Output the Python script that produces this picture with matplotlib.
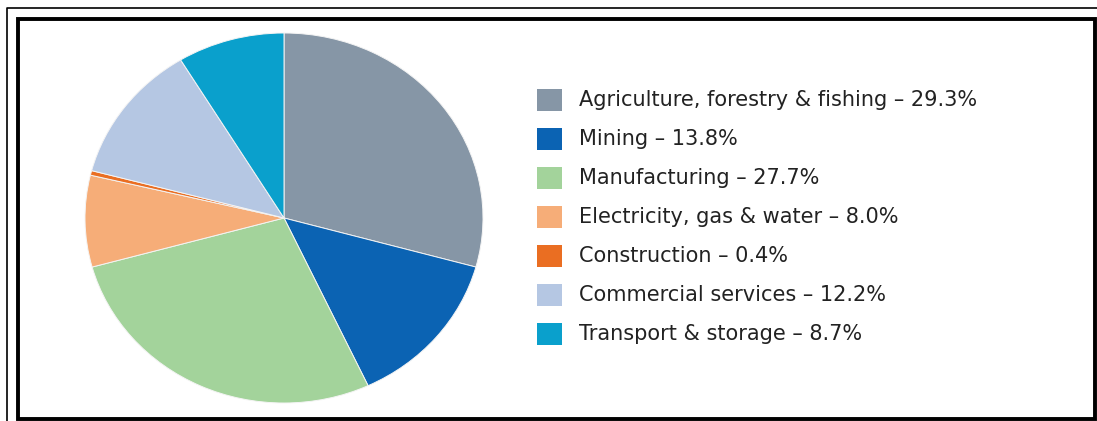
import matplotlib.pyplot as plt
from matplotlib.lines import Line2D
from matplotlib.patches import Rectangle

# sector shares (%)
sectors = ["Agriculture, forestry & fishing", "Mining", "Manufacturing",
           "Electricity, gas & water", "Construction", "Commercial services",
           "Transport & storage"]
shares = [29.3, 13.8, 27.7, 8.0, 0.4, 12.2, 8.7]
colors = ["#8696a6", "#0b63b3", "#a3d39b", "#f6ad78", "#ea6e22", "#b5c7e3", "#0aa0cc"]

W, H = 1097, 421
fig = plt.figure(figsize=(W / 100, H / 100), dpi=100)

def fx(px):
    return px / W

def fy(py):
    return 1 - py / H

# frames
fig.add_artist(Line2D([fx(6.5), fx(6.5), 1.0], [0.0, fy(7.5), fy(7.5)],
                      color="black", lw=1.2, transform=fig.transFigure))
fig.add_artist(Rectangle((fx(18), fy(418.5)), fx(1095) - fx(18), fy(18.5) - fy(418.5),
                         fill=False, edgecolor="black", lw=2.8, transform=fig.transFigure))

# pie (slightly wider than tall, as in the original)
ax = fig.add_axes([fx(85), fy(403), fx(483) - fx(85), fy(33) - fy(403)])
ax.pie(shares, colors=colors, startangle=90, counterclock=False,
       wedgeprops=dict(edgecolor="#f4f4f4", linewidth=0.7))
ax.set_aspect("auto")
ax.set_xlim(-1, 1)
ax.set_ylim(-1, 1)
ax.axis("off")

# legend
x_box, x_txt = 537, 579
y0, dy = 100, 39
for i, (name, val, c) in enumerate(zip(sectors, shares, colors)):
    yc = y0 + i * dy
    fig.add_artist(Rectangle((fx(x_box), fy(yc + 11)), fx(25), fy(yc - 11) - fy(yc + 11),
                             facecolor=c, edgecolor="none", transform=fig.transFigure))
    fig.text(fx(x_txt), fy(yc), f"{name} \u2013 {val:.1f}%", fontsize=15,
             family="DejaVu Sans", color="#222222", va="center", ha="left")

fig.savefig("out.png", dpi=100)
